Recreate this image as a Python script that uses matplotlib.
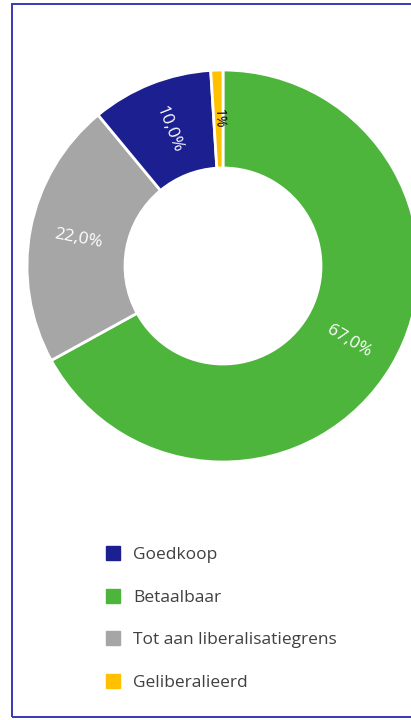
import numpy as np
import matplotlib.pyplot as plt
from matplotlib.lines import Line2D
from matplotlib.patches import Rectangle

plt.rcParams['font.family'] = ['Open Sans', 'DejaVu Sans']

# data, in drawing order (clockwise from the top)
labels = ["Betaalbaar", "Tot aan liberalisatiegrens", "Goedkoop", "Geliberalieerd"]
values = [67.0, 22.0, 10.0, 1.0]
value_text = ["67,0%", "22,0%", "10,0%", "1%"]
colors = ["#4db53c", "#a6a6a6", "#1b1f8f", "#ffc000"]
text_colors = ["white", "white", "white", "black"]

legend_order = ["Goedkoop", "Betaalbaar", "Tot aan liberalisatiegrens", "Geliberalieerd"]

W, H = 411, 720
fig = plt.figure(figsize=(W / 100, H / 100), dpi=100)

# border
fig.patches.append(Rectangle((12 / W, 1 - 717 / H), 1.2, (717 - 4) / H,
                             transform=fig.transFigure, fill=False,
                             edgecolor="#3838b4", linewidth=1.4))

cx, cy, R = 223, 266, 196
ax = fig.add_axes([(cx - R) / W, 1 - (cy + R) / H, 2 * R / W, 2 * R / H])

wedges, _ = ax.pie(values, colors=colors, startangle=90, counterclock=False,
                   radius=1, wedgeprops=dict(width=0.5, edgecolor="white", linewidth=2))
ax.set_xlim(-1, 1)
ax.set_ylim(-1, 1)
ax.axis("off")

for w, txt, tc in zip(wedges, value_text, text_colors):
    mid = (w.theta1 + w.theta2) / 2
    r = 0.75
    x = r * np.cos(np.radians(mid))
    y = r * np.sin(np.radians(mid))
    rot = mid
    if rot > 90:
        rot -= 180
    if rot < -90:
        rot += 180
    fs = 12.5 if tc == "white" else 10
    ax.text(x, y, txt, ha="center", va="center", rotation=rot,
            rotation_mode="anchor", color=tc, fontsize=fs)

handles = []
for name in legend_order:
    c = colors[labels.index(name)]
    handles.append(Line2D([], [], marker="s", linestyle="none", markersize=9.5,
                          markerfacecolor=c, markeredgecolor=c, label=name))

leg = fig.legend(handles=handles, loc="upper left",
                 bbox_to_anchor=(97 / W, 1 - 540 / H), frameon=False,
                 fontsize=12.5, labelspacing=1.52, handletextpad=0.7,
                 handlelength=1.0, borderaxespad=0)
for t in leg.get_texts():
    t.set_color("#404040")

fig.savefig("out.png", dpi=100)
